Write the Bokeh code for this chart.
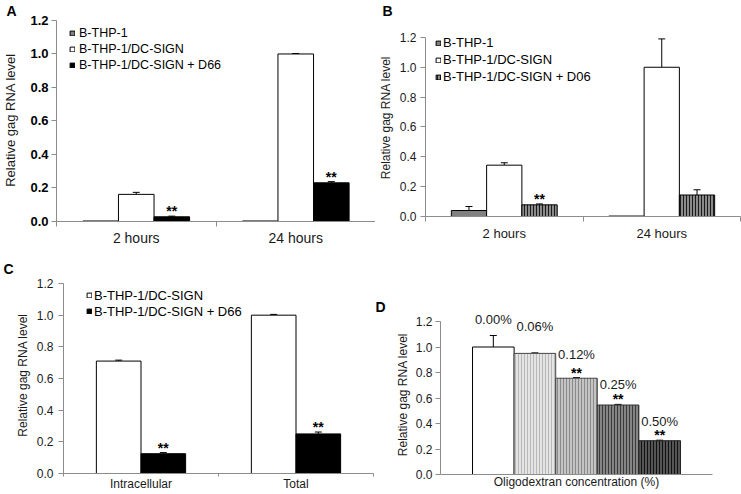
from bokeh.plotting import figure
from bokeh.models import (Range1d, FixedTicker, PrintfTickFormatter, Whisker, TeeHead,
                          ColumnDataSource, Legend, LegendItem, LabelSet)
from bokeh.layouts import row, column
from bokeh.core.properties import value
from bokeh.embed import file_html
from bokeh.resources import INLINE

FONT = "Liberation Sans"
AXIS = "#8c8c8c"

# ---------------- data ----------------
y_ticks = [0.0, 0.2, 0.4, 0.6, 0.8, 1.0, 1.2]

a_categories = ["2 hours", "24 hours"]
a_series = ["B-THP-1", "B-THP-1/DC-SIGN", "B-THP-1/DC-SIGN + D66"]
a_thp1 = [0.003, 0.003]
a_thp1_err = [0.0, 0.0]
a_dcsign = [0.162, 1.0]
a_dcsign_err = [0.012, 0.003]
a_d66 = [0.028, 0.231]
a_d66_err = [0.004, 0.007]
a_d66_sig = ["**", "**"]

b_categories = ["2 hours", "24 hours"]
b_series = ["B-THP-1", "B-THP-1/DC-SIGN", "B-THP-1/DC-SIGN + D06"]
b_thp1 = [0.04, 0.003]
b_thp1_err = [0.027, 0.0]
b_dcsign = [0.344, 1.0]
b_dcsign_err = [0.016, 0.19]
b_d06 = [0.078, 0.144]
b_d06_err = [0.006, 0.035]
b_d06_sig = ["**", ""]

c_categories = ["Intracellular", "Total"]
c_series = ["B-THP-1/DC-SIGN", "B-THP-1/DC-SIGN + D66"]
c_dcsign = [0.71, 1.0]
c_dcsign_err = [0.006, 0.005]
c_d66 = [0.125, 0.25]
c_d66_err = [0.007, 0.012]
c_d66_sig = ["**", "**"]

d_concentrations = ["0.00%", "0.06%", "0.12%", "0.25%", "0.50%"]
d_values = [1.0, 0.95, 0.755, 0.545, 0.265]
d_err = [0.09, 0.004, 0.005, 0.005, 0.004]
d_sig = ["", "", "**", "**", "**"]

# ---------------- styles ----------------
d_fill = ["white", "#e4e4e4", "#c4c4c4", "#858585", "#555555"]
d_hatch = ["white", "#b8b8b8", "#8a8a8a", "#3a3a3a", "#111111"]
d_line = ["black", "#444444", "#444444", "#333333", "#222222"]
d_label_lift = [16, 26, 23, 20, 19]   # px between bar/error top and its label


def base_fig(W, H, L, R, T, y0, y12, xr, letter, letter_x, tick_size="12px",
             tick_bold=False, tick_standoff=3, title_standoff=6, title_size="12px"):
    # y0 / y12: local pixel rows of the 0.0 and 1.2 levels; frame top T may sit above 1.2
    B = H - y0
    ymax = 1.2 * (y0 - T) / (y0 - y12)
    p = figure(width=W, height=H, x_range=xr, y_range=Range1d(0, ymax),
               min_border_left=L, min_border_right=R, min_border_top=T, min_border_bottom=B,
               output_backend="svg", toolbar_location=None, tools="")
    if "frame_align" in p.properties():
        p.frame_align = False
    p.xgrid.visible = False
    p.ygrid.visible = False
    p.outline_line_color = None
    p.title.text = letter
    p.title.text_font = FONT
    p.title.text_font_size = "14px"
    p.title.text_font_style = "bold"
    p.title.text_color = "black"
    p.title.align = "left"
    p.title.offset = letter_x - L
    p.title.standoff = 0
    for ax in (p.xaxis[0], p.yaxis[0]):
        ax.axis_line_color = AXIS
        ax.major_tick_line_color = AXIS
        ax.minor_tick_line_color = AXIS
        ax.major_label_text_font = FONT
        ax.major_label_text_color = "#1a1a1a"
        ax.axis_label_text_font = FONT
        ax.axis_label_text_font_style = "normal"
        ax.axis_label_text_font_size = title_size
        ax.axis_label_text_color = "#1a1a1a"
    p.xaxis[0].axis_label = None
    yax = p.yaxis[0]
    yax.bounds = (0, 1.2)
    yax.ticker = FixedTicker(ticks=y_ticks)
    yax.formatter = PrintfTickFormatter(format="%.1f")
    yax.major_tick_out = 5
    yax.major_tick_in = 0
    yax.minor_tick_out = 0
    yax.minor_tick_in = 0
    yax.major_label_standoff = tick_standoff
    yax.axis_label = "Relative gag RNA level"
    yax.axis_label_standoff = title_standoff
    yax.major_label_text_font_size = tick_size
    if tick_bold:
        yax.major_label_text_font_style = "bold"
        yax.major_label_text_color = "black"
    return p


def cat_axis(p, cats, size="12px", standoff=3, tick_out=5):
    xax = p.xaxis[0]
    centers = [i + 0.5 for i in range(len(cats))]
    xax.ticker = FixedTicker(ticks=centers, minor_ticks=list(range(len(cats) + 1)))
    xax.major_label_overrides = {c: lab for c, lab in zip(centers, cats)}
    xax.major_tick_out = 0
    xax.major_tick_in = 0
    xax.minor_tick_out = tick_out
    xax.minor_tick_in = 0
    xax.major_label_standoff = standoff
    xax.major_label_text_font_size = size


def add_errors(p, xs, vals, errs):
    ex = [x for x, e in zip(xs, errs) if e > 0]
    lo = [v for v, e in zip(vals, errs) if e > 0]
    up = [v + e for v, e in zip(vals, errs) if e > 0]
    if not ex:
        return
    src = ColumnDataSource(dict(x=ex, lower=lo, upper=up))
    w = Whisker(source=src, base="x", lower="lower", upper="upper", dimension="height",
                line_color="black", line_width=1,
                upper_head=TeeHead(size=7, line_color="black", line_width=1), lower_head=None)
    p.add_layout(w)


def add_stars(p, xs, ys, sig):
    src = ColumnDataSource(dict(x=xs, y=ys, t=sig))
    p.add_layout(LabelSet(x="x", y="y", text="t", source=src, text_align="center",
                          text_baseline="alphabetic", y_offset=0,
                          text_font=value(FONT), text_font_size="14px",
                          text_font_style="bold", text_color="black"))


def grouped(p, ncat, vals_list, errs_list, sig_list, width, styles):
    n = len(vals_list)
    rends = []
    for i, (vals, errs, sig, st) in enumerate(zip(vals_list, errs_list, sig_list, styles)):
        xs = [j + 0.5 + (i - (n - 1) / 2) * width for j in range(ncat)]
        src = ColumnDataSource(dict(x=xs, top=vals))
        r = p.vbar(x="x", top="top", width=width, bottom=0, source=src, **st)
        rends.append(r)
        add_errors(p, xs, vals, errs)
        if sig is not None:
            add_stars(p, xs, [v + e for v, e in zip(vals, errs)], sig)
    return rends


def add_legend(p, labels, rends, x, y, row_h, standoff, size="13px"):
    items = [LegendItem(label=l, renderers=[r]) for l, r in zip(labels, rends)]
    lg = Legend(items=items, location=(int(x), int(y)), glyph_width=6, glyph_height=6,
                label_standoff=standoff, spacing=0, padding=0, margin=0,
                border_line_color=None, background_fill_alpha=0,
                label_text_font=FONT, label_text_font_size=size,
                label_text_color="black", label_height=int(row_h))
    p.add_layout(lg)


# ---------------- panel A ----------------
HA, y0A = 248, 222
pa = base_fig(375, HA, 53, 0, 17, y0A, 19, Range1d(0, 2), "A", 3, tick_size="13px",
              tick_bold=True, tick_standoff=3, title_standoff=9, title_size="13px")
cat_axis(pa, a_categories, size="14px", standoff=3)
ra = grouped(pa, 2, [a_thp1, a_dcsign, a_d66], [a_thp1_err, a_dcsign_err, a_d66_err],
             [None, None, a_d66_sig], 0.223,
             [dict(fill_color="#808080", line_color="black"),
              dict(fill_color="white", line_color="black"),
              dict(fill_color="black", line_color="black")])
add_legend(pa, a_series, ra, 13, y0A - 74, 16, 4, size="12.5px")

# ---------------- panel B ----------------
HB, y0B = 248, 216
pb = base_fig(366, HB, 43, 1, 17, y0B, 36, Range1d(0, 2), "B", 0,
              tick_standoff=4, title_standoff=4)
cat_axis(pb, b_categories, size="13px", standoff=4)
rb = grouped(pb, 2, [b_thp1, b_dcsign, b_d06], [b_thp1_err, b_dcsign_err, b_d06_err],
             [None, None, b_d06_sig], 0.224,
             [dict(fill_color="#808080", line_color="black"),
              dict(fill_color="white", line_color="black"),
              dict(fill_color="#8a8a8a", line_color="black", hatch_pattern="vertical_line",
                   hatch_color="#1a1a1a", hatch_scale=3, hatch_weight=1)])
add_legend(pb, b_series, rb, 10, y0B - 85, 17, 2)

# ---------------- panel C ----------------
HC, y0C = 246, 225
pc = base_fig(375, HC, 63, 2, 28, y0C, 35, Range1d(0, 2), "C", 3,
              tick_standoff=5, title_standoff=4)
cat_axis(pc, c_categories, size="12px", standoff=0, tick_out=3)
rc = grouped(pc, 2, [c_dcsign, c_d66], [c_dcsign_err, c_d66_err], [None, c_d66_sig], 0.288,
             [dict(fill_color="white", line_color="black"),
              dict(fill_color="black", line_color="black")])
add_legend(pc, c_series, rc, 23, y0C - 71, 16, 2)

# ---------------- panel D ----------------
HD, y0D = 246, 226
pd = base_fig(366, HD, 65, 29, 66, y0D, 73, Range1d(-0.27, 6.27), "D", 0,
              tick_standoff=3, title_standoff=3)
xd = pd.xaxis[0]
xd.ticker = FixedTicker(ticks=[])
xd.major_label_text_font_size = "0px"
xd.major_label_standoff = 0
xd.major_tick_out = 0
xd.minor_tick_out = 0
xd.axis_label = "Oligodextran concentration (%)"
xd.axis_label_standoff = 0
d_x = [i + 1 for i in range(len(d_values))]
d_top = [v + e for v, e in zip(d_values, d_err)]
dsrc = ColumnDataSource(dict(x=d_x, top=d_values, fill=d_fill, hatch=d_hatch, line=d_line,
                             lab=d_concentrations, lab_y=d_top, lift=d_label_lift))
pd.vbar(x="x", top="top", width=1, bottom=0, source=dsrc, fill_color="fill", line_color="line",
        hatch_pattern="vertical_line", hatch_color="hatch", hatch_scale=3, hatch_weight=1)
add_errors(pd, d_x, d_values, d_err)
add_stars(pd, d_x, d_top, d_sig)
pd.add_layout(LabelSet(x="x", y="lab_y", text="lab", source=dsrc, text_align="center",
                       text_baseline="middle", y_offset="lift", text_font=value(FONT),
                       text_font_size="13px", text_color="#1a1a1a"))

layout = column(row(pa, pb), row(pc, pd))
open("out.html", "w").write(file_html(layout, INLINE))
